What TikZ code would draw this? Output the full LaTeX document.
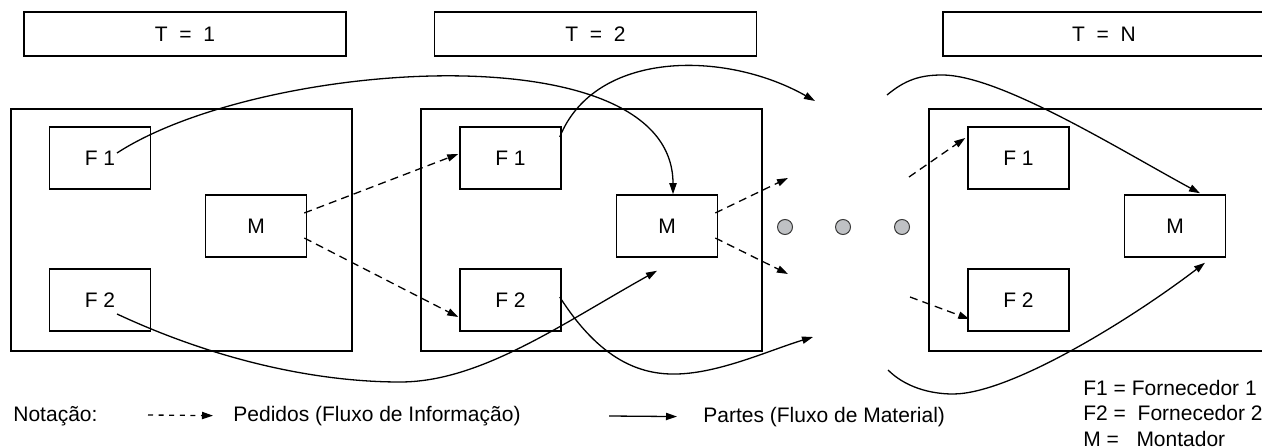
\documentclass[tikz,border=0pt]{standalone}
\usepackage{fontspec}
\setmainfont{Liberation Sans}
\usetikzlibrary{arrows.meta, calc}
\definecolor{dotfill}{HTML}{BFC1C4}
\definecolor{dotline}{HTML}{3A3A3A}

\begin{document}
\begin{tikzpicture}[x=0.5pt, y=-0.5pt,
    every node/.style={font=\fontsize{10.5}{12}\selectfont},
    frame/.style={draw, line width=0.75pt, inner sep=0pt},
    header/.style={frame, minimum width=161pt, minimum height=22pt},
    stage/.style={frame, minimum width=170.5pt, minimum height=121pt},
    unit/.style={frame, minimum width=50.5pt, minimum height=31pt},
    key/.style={anchor=base west, inner sep=0pt},
    part/.style={line width=0.65pt, -{Triangle[length=5.5pt, width=3.6pt]}},
    order/.style={part, dash pattern=on 4pt off 2.6pt}]
      \useasboundingbox (0,0) rectangle (1262,448);
      \node[header] (hdr1) at (185,34) {T~~=~~1};
      \node[header] (hdr2) at (595.5,34) {T~~=~~2};
      \node[header] (hdrN) at (1104,34) {T~~=~~N};
      \node[stage] (box1) at (181.5,230) {};
      \node[stage] (box2) at (591.5,230) {};
      \node[stage] (box3) at (1099.5,230) {};
      \node[unit] (f1a) at (100,158) {F 1};
      \node[unit] (f2a) at (100,300) {F 2};
      \node[unit] (ma) at (256,226) {M};
      \node[unit] (f1b) at (510.5,158) {F 1};
      \node[unit] (f2b) at (510.5,300) {F 2};
      \node[unit] (mb) at (667,226) {M};
      \node[unit] (f1c) at (1018.5,158) {F 1};
      \node[unit] (f2c) at (1018.5,300) {F 2};
      \node[unit] (mc) at (1175,226) {M};
      \foreach \x [count=\i] in {785, 843, 902} {\node[draw=dotline, fill=dotfill, circle, minimum size=7.5pt, inner sep=0pt, line width=0.5pt] (dot\i) at (\x,227) {};}
      \coordinate (out1) at (815,101);
      \coordinate (out2) at (813,337);
      \coordinate (out3) at (788,178);
      \coordinate (out4) at (788,274);
      \coordinate (in1) at (887,95);
      \coordinate (in2) at (888,370);
      \coordinate (in3) at (909,177);
      \coordinate (in4) at (910,297);
      \draw[part] ($(f1a.center)+(17,-5)$) .. controls (260,60) and (673,30) .. ($(mb.north)+(6,0)$);
      \draw[part] ($(f2a.center)+(17,14)$) .. controls (220,362) and (320,382) .. (400,382) .. controls (480,382) and (560,325) .. ($(mb.south)+(-10,13)$);
      \draw[part] ($(f1b.east)+(-2,-21)$) .. controls (595,50) and (725,50) .. (out1);
      \draw[part] ($(f2b.east)+(-2,-3)$) .. controls (600,360) and (640,375) .. (677,374) .. controls (720,373) and (770,350) .. (out2);
      \draw[part] (in1) .. controls (905,80) and (920,75) .. (942,75) .. controls (1000,75) and (1120,150) .. ($(mc.north)+(25,-1)$);
      \draw[part] (in2) .. controls (905,387) and (930,394) .. (953,394) .. controls (1010,394) and (1130,320) .. ($(mc.south)+(30,5)$);
      \draw[order] ($(ma.east)+(-3,-13)$) -- ($(f1b.west)+(-1,-4)$);
      \draw[order] ($(ma.east)+(-3,12)$) -- ($(f2b.west)+(-1,17)$);
      \draw[order] ($(mb.east)+(-3,-13)$) -- (out3);
      \draw[order] ($(mb.east)+(-3,12)$) -- (out4);
      \draw[order] (in3) -- ($(f1c.west)+(-2,-20)$);
      \draw[order] (in4) -- ($(f2c.west)+(2,19)$);
      \node[key] (nota) at (13,421) {Notação:};
      \node[key] (ped) at (233,421) {Pedidos (Fluxo de Informação)};
      \node[key] (par) at (703,422) {Partes (Fluxo de Material)};
      \coordinate (lg1) at (148,415);
      \coordinate (lg2) at (609,416);
      \draw[order, dash pattern=on 2.5pt off 2.8pt] (lg1) -- ($(ped.west)+(-20,0)$);
      \draw[part] (lg2) -- ($(par.west)+(-26,0)$);
      \node[key] (k1) at (1083,395) {F1 = Fornecedor 1};
      \node[key] (k2) at (1083,420) {F2 =~~Fornecedor 2};
      \node[key] (k3) at (1083,446) {M =~~~Montador};
    \end{tikzpicture}
\end{document}
